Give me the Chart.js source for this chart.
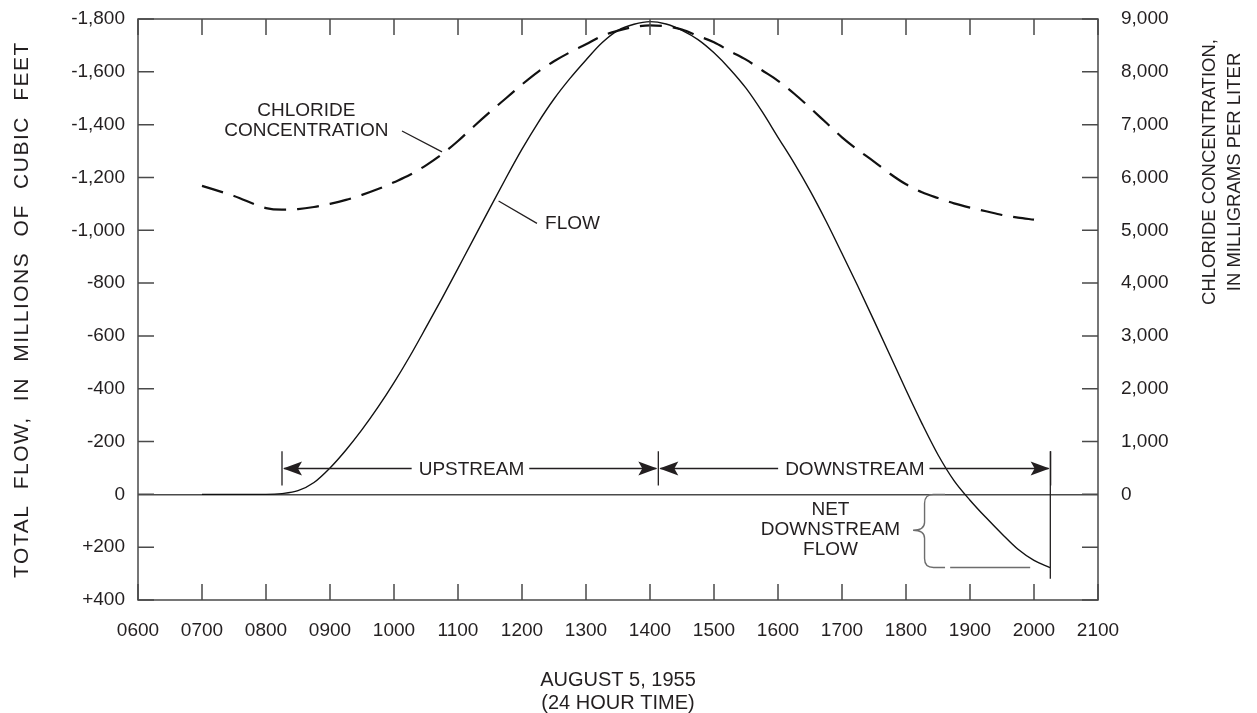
<!DOCTYPE html>
<html>
<head>
<meta charset="utf-8">
<script src="https://cdn.jsdelivr.net/npm/chart.js@4.4.1/dist/chart.umd.min.js"></script>
<style>
  html, body { margin:0; padding:0; background:#fff; }
  #wrap { width:1257px; height:713px; }
</style>
</head>
<body>
<div id="wrap"><canvas id="chart" width="1257" height="713"></canvas></div>
<script>
// time in hours (7.5 = 0730)
const flowHours = [7.0, 7.5, 8.0, 8.25, 8.5, 8.75, 9.0, 9.25, 9.5, 9.75, 10.0, 10.25, 10.5, 10.75,
  11.0, 11.25, 11.5, 11.75, 12.0, 12.25, 12.5, 12.75, 13.0, 13.25, 13.5, 13.75, 14.0, 14.25, 14.5,
  14.75, 15.0, 15.25, 15.5, 15.75, 16.0, 16.25, 16.5, 16.75, 17.0, 17.25, 17.5, 17.75, 18.0, 18.25,
  18.5, 18.75, 19.0, 19.25, 19.5, 19.75, 20.0, 20.25];
// millions of cubic feet, negative = upstream
const flowValues = [0, 0, 0, -3, -14, -45, -100, -168, -245, -330, -423, -524, -632, -742,
  -856, -970, -1085, -1198, -1307, -1407, -1497, -1575, -1645, -1710, -1757, -1780, -1790, -1781, -1757,
  -1722, -1672, -1610, -1538, -1450, -1352, -1255, -1150, -1035, -912, -787, -658, -527, -395, -268,
  -150, -52, 22, 88, 150, 208, 250, 277];

const chlorideHours = [7.0, 7.5, 8.0, 8.25, 8.5, 8.75, 9.0, 9.25, 9.5, 9.75, 10.0, 10.25, 10.5, 10.75,
  11.0, 11.25, 11.5, 11.75, 12.0, 12.25, 12.5, 12.75, 13.0, 13.25, 13.5, 13.75, 14.0, 14.25, 14.5,
  14.75, 15.0, 15.25, 15.5, 15.75, 16.0, 16.25, 16.5, 16.75, 17.0, 17.25, 17.5, 17.75, 18.0, 18.25,
  18.5, 18.75, 19.0, 19.25, 19.5, 19.75, 20.0];
// mg/L
const chlorideValues = [5840, 5650, 5420, 5390, 5400, 5440, 5500, 5575, 5670, 5780, 5910, 6050, 6230, 6440,
  6690, 6970, 7240, 7500, 7760, 8000, 8200, 8370, 8520, 8680, 8780, 8850, 8880, 8860, 8800,
  8680, 8560, 8390, 8230, 8030, 7830, 7590, 7320, 7040, 6760, 6520, 6300, 6070, 5870, 5720,
  5610, 5510, 5430, 5360, 5290, 5240, 5200];

const xTickLabels = ["0600", "0700", "0800", "0900", "1000", "1100", "1200", "1300", "1400",
  "1500", "1600", "1700", "1800", "1900", "2000", "2100"];
const flowTickValues = [-1800, -1600, -1400, -1200, -1000, -800, -600, -400, -200, 0, 200, 400];
const flowTickLabels = ["-1,800", "-1,600", "-1,400", "-1,200", "-1,000", "-800", "-600", "-400",
  "-200", "0", "+200", "+400"];
const chlorideTickValues = [-2000, -1000, 0, 1000, 2000, 3000, 4000, 5000, 6000, 7000, 8000, 9000];
const chlorideTickLabels = ["", "", "0", "1,000", "2,000", "3,000", "4,000", "5,000", "6,000",
  "7,000", "8,000", "9,000"];

// annotation anchors (hours / flow units)
const spanMarks = [8.25, 14.13, 20.26];
const spanLabels = ["UPSTREAM", "DOWNSTREAM"];
const spanLabelHours = [11.21, 17.2];

const FONT = "'Liberation Sans', Arial, Helvetica, sans-serif";
const INK = "#231f20";
const AXIS = "#4a4a4a";

const framePlugin = {
  id: "frame",
  afterDraw(chart) {
    const { ctx, chartArea: a, scales } = chart;
    const tl = 16;
    ctx.save();
    ctx.strokeStyle = AXIS;
    ctx.lineWidth = 1.5;
    ctx.beginPath();
    ctx.rect(a.left, a.top, a.right - a.left, a.bottom - a.top);
    ctx.stroke();
    ctx.beginPath();
    scales.x.ticks.forEach(t => {
      const x = scales.x.getPixelForValue(t.value);
      ctx.moveTo(x, a.top); ctx.lineTo(x, a.top + tl);
      ctx.moveTo(x, a.bottom); ctx.lineTo(x, a.bottom - tl);
    });
    scales.y.ticks.forEach(t => {
      const y = scales.y.getPixelForValue(t.value);
      ctx.moveTo(a.left, y); ctx.lineTo(a.left + tl, y);
    });
    scales.y1.ticks.forEach(t => {
      const y = scales.y1.getPixelForValue(t.value);
      ctx.moveTo(a.right, y); ctx.lineTo(a.right - tl, y);
    });
    ctx.stroke();

    // axis titles
    ctx.fillStyle = INK;
    ctx.textAlign = "center";
    ctx.textBaseline = "middle";
    ctx.font = "20px " + FONT;
    ctx.fillText("AUGUST 5, 1955", (a.left + a.right) / 2, 680);
    ctx.fillText("(24 HOUR TIME)", (a.left + a.right) / 2, 703);

    ctx.save();
    ctx.font = "21px " + FONT;
    ctx.translate(22, (a.top + a.bottom) / 2);
    ctx.rotate(-Math.PI / 2);
    ctx.letterSpacing = "1.5px";
    ctx.wordSpacing = "8px";
    ctx.fillText("TOTAL FLOW, IN MILLIONS OF CUBIC FEET", 0, 0);
    ctx.restore();

    ctx.font = "18.5px " + FONT;
    ctx.save();
    ctx.translate(1210, 172);
    ctx.rotate(-Math.PI / 2);
    ctx.fillText("CHLORIDE CONCENTRATION,", 0, 0);
    ctx.restore();
    ctx.save();
    ctx.translate(1235, 172);
    ctx.rotate(-Math.PI / 2);
    ctx.fillText("IN MILLIGRAMS PER LITER", 0, 0);
    ctx.restore();
    ctx.restore();
  }
};

function arrowHead(ctx, x, y, dir) {
  ctx.beginPath();
  ctx.moveTo(x, y);
  ctx.lineTo(x + dir * 19, y - 7);
  ctx.lineTo(x + dir * 15, y);
  ctx.lineTo(x + dir * 19, y + 7);
  ctx.closePath();
  ctx.fill();
}

const notesPlugin = {
  id: "notes",
  afterDatasetsDraw(chart) {
    const { ctx, scales } = chart;
    const X = h => scales.x.getPixelForValue(h);
    const Y = v => scales.y.getPixelForValue(v);
    ctx.save();
    ctx.strokeStyle = INK;
    ctx.fillStyle = INK;
    ctx.lineWidth = 1.3;
    ctx.font = "19px " + FONT;
    ctx.textAlign = "center";
    ctx.textBaseline = "middle";

    // upstream / downstream span
    const yl = Y(-98);
    ctx.beginPath();
    spanMarks.forEach(h => { ctx.moveTo(X(h), Y(-163)); ctx.lineTo(X(h), Y(-34)); });
    ctx.stroke();
    spanLabels.forEach((txt, i) => {
      const xa = X(spanMarks[i]), xb = X(spanMarks[i + 1]), xc = X(spanLabelHours[i]);
      const w = ctx.measureText(txt).width;
      ctx.beginPath();
      ctx.moveTo(xa + 2, yl); ctx.lineTo(xc - w / 2 - 7, yl);
      ctx.moveTo(xc + w / 2 + 5, yl); ctx.lineTo(xb - 2, yl);
      ctx.stroke();
      ctx.fillText(txt, xc, yl + 1);
      arrowHead(ctx, xa + 1, yl, 1);
      arrowHead(ctx, xb - 1, yl, -1);
    });

    // leader lines + labels
    ctx.beginPath();
    ctx.moveTo(X(10.125), Y(-1376)); ctx.lineTo(X(10.75), Y(-1297));
    ctx.moveTo(X(11.634), Y(-1111)); ctx.lineTo(X(12.234), Y(-1026));
    ctx.stroke();
    ctx.fillText("CHLORIDE", X(8.63), Y(-1452));
    ctx.fillText("CONCENTRATION", X(8.63), Y(-1376));
    ctx.textAlign = "left";
    ctx.fillText("FLOW", X(12.36), Y(-1026));
    ctx.textAlign = "center";

    // net downstream flow
    ctx.fillText("NET", X(16.82), Y(57));
    ctx.fillText("DOWNSTREAM", X(16.82), Y(133));
    ctx.fillText("FLOW", X(16.82), Y(208));

    ctx.beginPath();
    ctx.moveTo(X(20.255), Y(-163)); ctx.lineTo(X(20.255), Y(320));
    ctx.stroke();

    ctx.strokeStyle = "#6d6d6d";
    ctx.lineWidth = 1.4;
    const bx = X(18.29), tip = X(18.11), by0 = Y(0), bym = Y(136), by1 = Y(277);
    ctx.beginPath();
    ctx.moveTo(X(18.61), by0);
    ctx.lineTo(bx + 9, by0);
    ctx.quadraticCurveTo(bx, by0, bx, by0 + 9);
    ctx.lineTo(bx, bym - 8);
    ctx.quadraticCurveTo(bx, bym, tip, bym);
    ctx.quadraticCurveTo(bx, bym, bx, bym + 8);
    ctx.lineTo(bx, by1 - 9);
    ctx.quadraticCurveTo(bx, by1, bx + 9, by1);
    ctx.lineTo(X(18.61), by1);
    ctx.moveTo(X(18.69), by1);
    ctx.lineTo(X(19.94), by1);
    ctx.stroke();
    ctx.restore();
  }
};

const noPad = s => { s.paddingTop = 0; s.paddingBottom = 0; };

new Chart(document.getElementById("chart"), {
  type: "line",
  data: {
    datasets: [
      {
        label: "Flow",
        data: flowHours.map((h, i) => ({ x: h, y: flowValues[i] })),
        yAxisID: "y",
        borderColor: "#111",
        borderWidth: 1.4,
        pointRadius: 0,
        cubicInterpolationMode: "monotone"
      },
      {
        label: "Chloride concentration",
        data: chlorideHours.map((h, i) => ({ x: h, y: chlorideValues[i] })),
        yAxisID: "y1",
        borderColor: "#111",
        borderWidth: 2.2,
        borderDash: [22, 11],
        pointRadius: 0,
        cubicInterpolationMode: "monotone"
      }
    ]
  },
  options: {
    responsive: false,
    animation: false,
    events: [],
    layout: { padding: { top: 19, left: 0, right: 0, bottom: 0 } },
    plugins: { legend: { display: false }, tooltip: { enabled: false } },
    scales: {
      x: {
        type: "linear",
        min: 6, max: 21,
        afterFit: s => { s.height = 113; s.paddingLeft = 0; s.paddingRight = 0; },
        ticks: {
          stepSize: 1,
          autoSkip: false,
          maxRotation: 0,
          padding: 19,
          color: INK,
          font: { family: FONT, size: 19 },
          callback: (v, i) => xTickLabels[i]
        },
        grid: { drawOnChartArea: false, drawTicks: false },
        border: { display: false }
      },
      y: {
        position: "left",
        reverse: true,
        min: -1800, max: 400,
        afterFit: s => { s.width = 138; noPad(s); },
        ticks: {
          stepSize: 200,
          autoSkip: false,
          padding: 13,
          color: INK,
          font: { family: FONT, size: 19 },
          callback: v => flowTickLabels[flowTickValues.indexOf(v)]
        },
        grid: {
          drawTicks: false,
          lineWidth: 1.5,
          color: c => (c.tick && c.tick.value === 0 ? AXIS : "transparent")
        },
        border: { display: false }
      },
      y1: {
        position: "right",
        min: -2000, max: 9000,
        afterFit: s => { s.width = 159; noPad(s); },
        ticks: {
          stepSize: 1000,
          autoSkip: false,
          padding: 23,
          color: INK,
          font: { family: FONT, size: 19 },
          callback: v => chlorideTickLabels[chlorideTickValues.indexOf(v)]
        },
        grid: { drawOnChartArea: false, drawTicks: false },
        border: { display: false }
      }
    }
  },
  plugins: [framePlugin, notesPlugin]
});
</script>
</body>
</html>
